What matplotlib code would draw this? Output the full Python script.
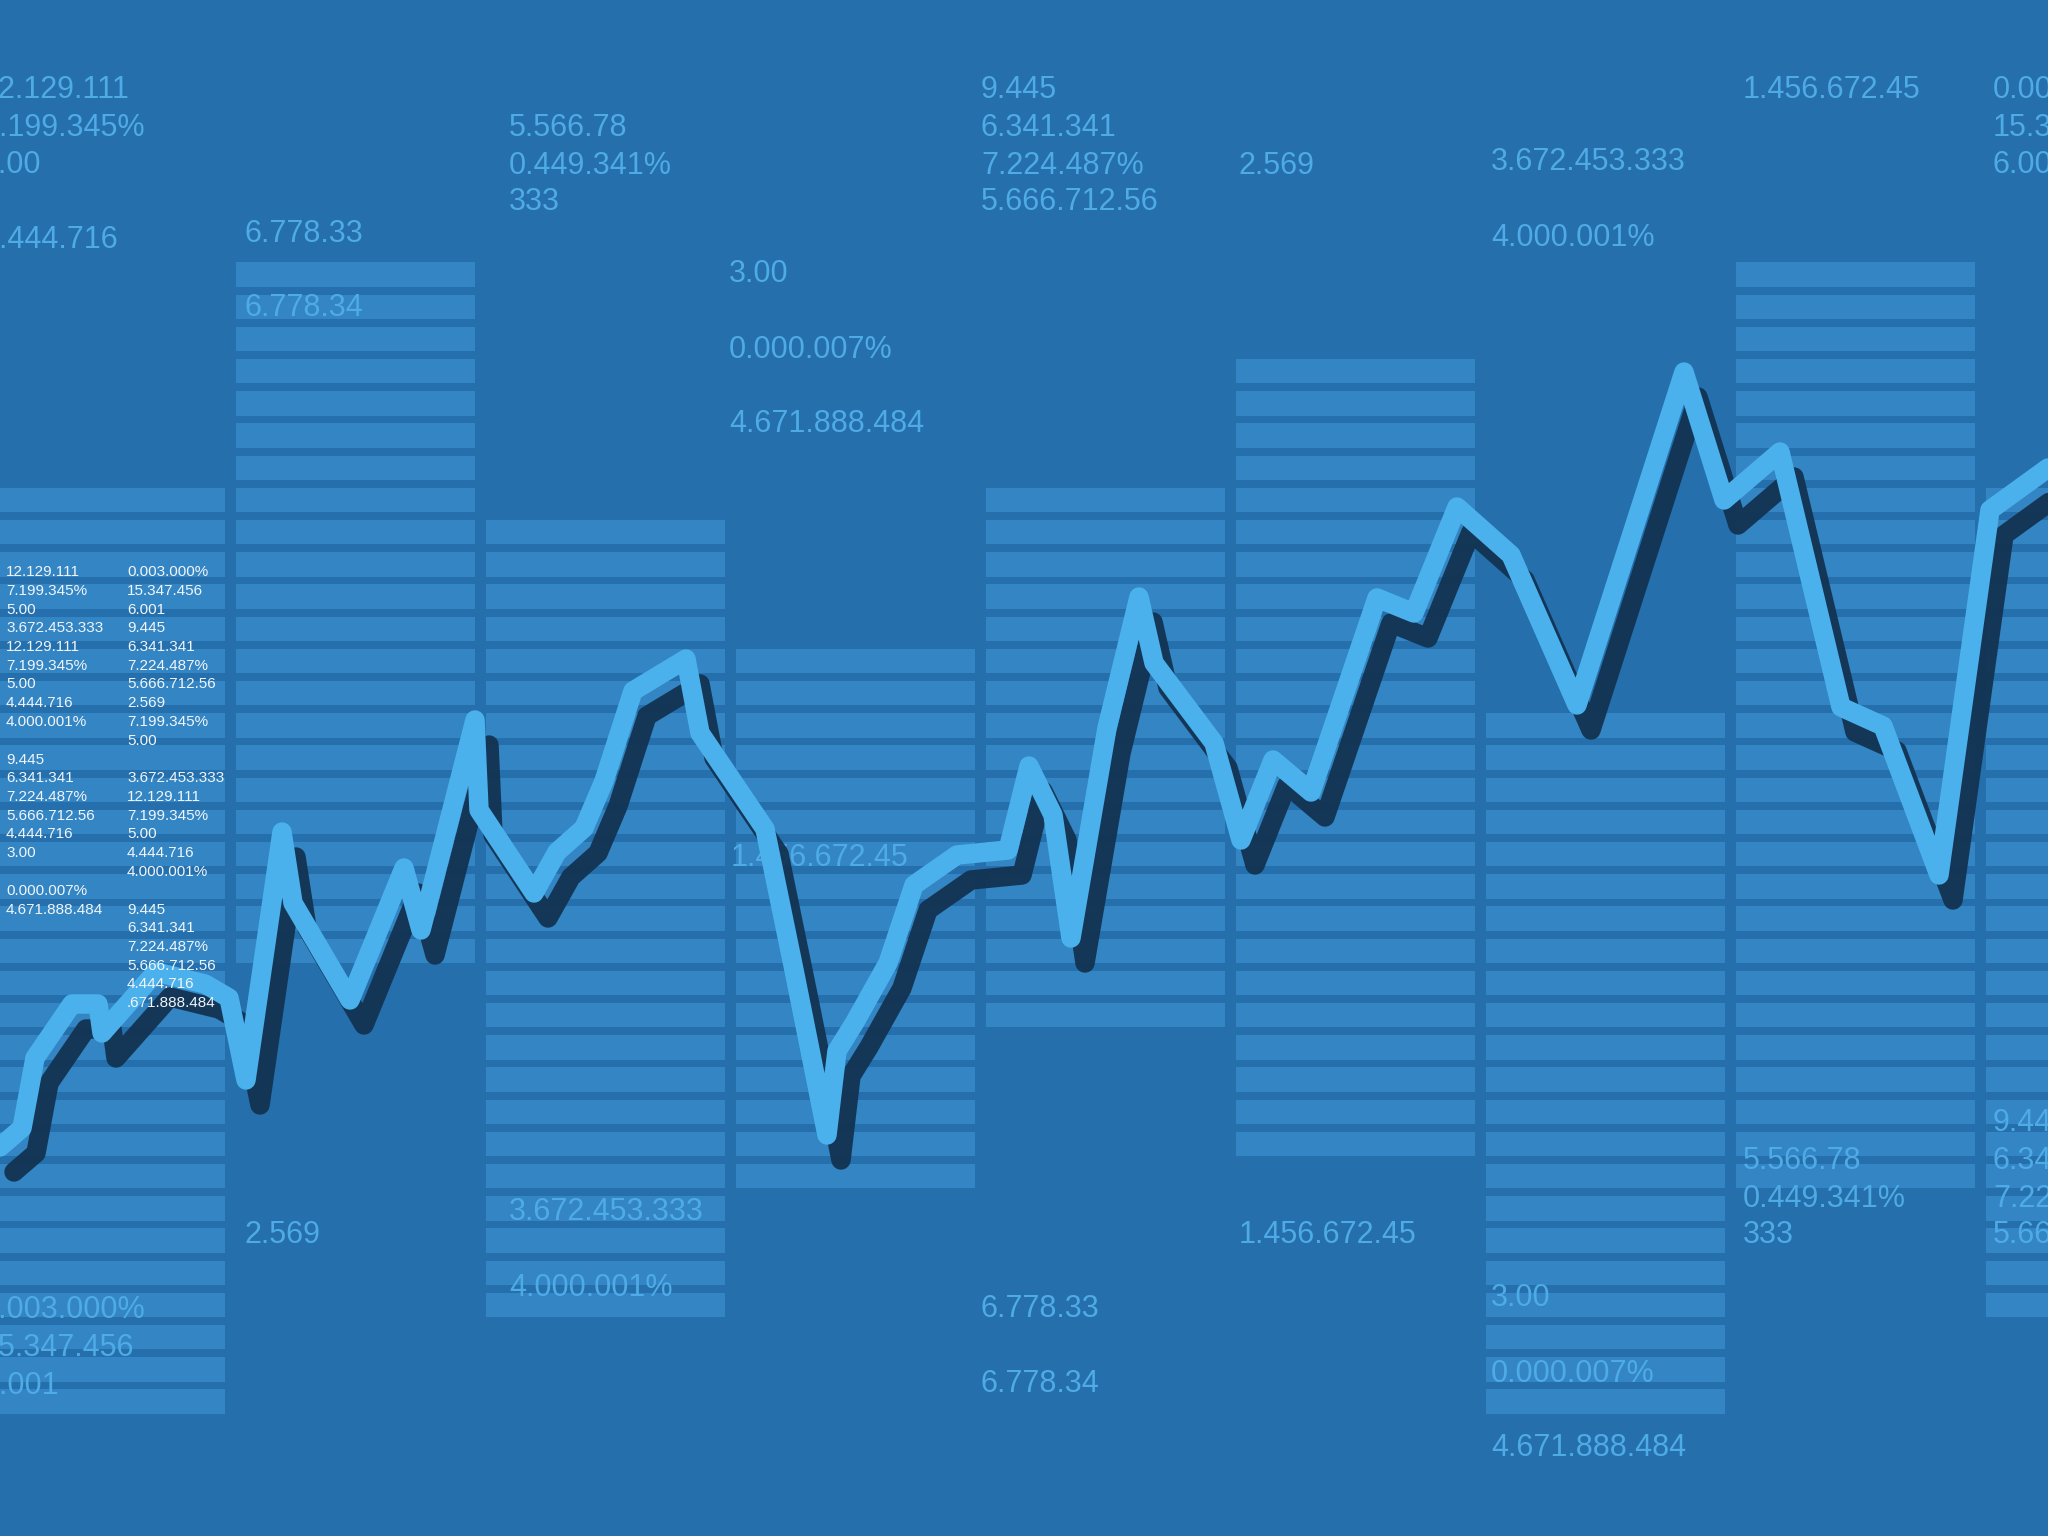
import matplotlib
matplotlib.use("Agg")
import matplotlib.pyplot as plt
import matplotlib.transforms as mtransforms

# ---------------- data ----------------
# stacked stripe columns: first and last stripe row in each column
col_top_row = [7, 0, 8, 12, 7, 3, 14, 0, 7]
col_bottom_row = [35, 21, 32, 28, 23, 27, 35, 28, 32]

# price line (pixel-space values)
line_x = [0, 22, 35, 72, 98, 102, 156, 205, 229, 246, 282, 293, 350, 404, 421,
          475, 479, 534, 557, 584, 604, 633, 686, 700, 765, 794, 827, 837, 855,
          888, 914, 957, 1008, 1029, 1053, 1071, 1107, 1139, 1154, 1214, 1241,
          1273, 1311, 1377, 1414, 1457, 1511, 1577, 1684, 1724, 1780, 1841,
          1883, 1939, 1990, 2048]
line_y = [1147, 1128, 1058, 1004, 1004, 1033, 972, 984, 998, 1080, 832, 903,
          1000, 868, 930, 720, 810, 893, 852, 828, 781, 691, 659, 733, 829, 970,
          1135, 1051, 1022, 963, 885, 855, 850, 766, 815, 938, 728, 597, 663,
          743, 840, 760, 792, 598, 613, 507, 555, 705, 372, 500, 452, 707, 726,
          875, 510, 468]

# large light-blue labels
label_text = ["12.129.111", "7.199.345%", "5.00", "4.444.716",
              "6.778.33", "6.778.34",
              "5.566.78", "0.449.341%", "333",
              "3.00", "0.000.007%", "4.671.888.484",
              "9.445", "6.341.341", "7.224.487%", "5.666.712.56",
              "2.569",
              "3.672.453.333", "4.000.001%",
              "1.456.672.45",
              "0.003.000%", "15.347.456", "6.001",
              "1.456.672.45",
              "2.569",
              "3.672.453.333", "4.000.001%",
              "0.003.000%", "15.347.456", "6.001",
              "6.778.33", "6.778.34",
              "1.456.672.45",
              "3.00", "0.000.007%", "4.671.888.484",
              "5.566.78", "0.449.341%", "333",
              "9.445", "6.341.341", "7.224.487%", "5.666.712.56"]
label_x = [-18, -18, -18, -18,
           244, 244,
           509, 509, 509,
           729, 729, 729,
           981, 981, 981, 981,
           1239,
           1491, 1491,
           1743,
           1993, 1993, 1993,
           731,
           244,
           509, 509,
           -18, -18, -18,
           981, 981,
           1239,
           1491, 1491, 1491,
           1743, 1743, 1743,
           1993, 1993, 1993, 1993]
label_y = [90, 128, 165, 240,
           234, 308,
           128, 166, 202,
           274, 350, 424,
           90, 128, 166, 202,
           166,
           162, 238,
           90,
           90, 128, 165,
           858,
           1235,
           1212, 1288,
           1310, 1348, 1386,
           1309, 1384,
           1235,
           1298, 1374, 1448,
           1161, 1199, 1235,
           1123, 1161, 1199, 1235]

# small white table in the first column
small_left = ["12.129.111", "7.199.345%", "5.00", "3.672.453.333", "12.129.111",
              "7.199.345%", "5.00", "4.444.716", "4.000.001%", "", "9.445",
              "6.341.341", "7.224.487%", "5.666.712.56", "4.444.716", "3.00", "",
              "0.000.007%", "4.671.888.484"]
small_right = ["0.003.000%", "15.347.456", "6.001", "9.445", "6.341.341",
               "7.224.487%", "5.666.712.56", "2.569", "7.199.345%", "5.00", "",
               "3.672.453.333", "12.129.111", "7.199.345%", "5.00", "4.444.716",
               "4.000.001%", "", "9.445", "6.341.341", "7.224.487%",
               "5.666.712.56", "4.444.716", ".671.888.484"]

# ---------------- style ----------------
W, H = 2048, 1536
BG = "#246FAC"
STRIPE = "#3385C3"
LINE = "#4BB1EC"
SHADOW = "#12314F"
LABEL = "#4EABE5"
SMALL = "#F0F5FB"

ROW0, ROW_PITCH, ROW_H = 262.3, 32.2, 24.5
COL0, COL_PITCH, COL_W = -14, 250, 239
SMALL_ROW0, SMALL_PITCH = 572, 18.75
SMALL_X = [6, 127]

fig = plt.figure(figsize=(W / 100, H / 100), dpi=100, facecolor=BG)
ax = fig.add_axes([0, 0, 1, 1])
ax.set_facecolor(BG)
ax.set_xlim(0, W)
ax.set_ylim(H, 0)
ax.axis("off")

# stripe columns
for k, (r0, r1) in enumerate(zip(col_top_row, col_bottom_row)):
    rows = list(range(r0, r1 + 1))
    bottoms = [ROW0 + r * ROW_PITCH for r in rows]
    ax.bar([COL0 + k * COL_PITCH] * len(rows), [ROW_H] * len(rows),
           width=COL_W, bottom=bottoms, align="edge", color=STRIPE,
           linewidth=0, zorder=1)

# large labels (the reference crops some of them at the picture edges)
for s, x, y in zip(label_text, label_x, label_y):
    ax.text(x, y, s, fontsize=22, color=LABEL, ha="left", va="center",
            family=["Liberation Sans", "DejaVu Sans"], zorder=2)

# line shadow and line
shadow_tr = mtransforms.offset_copy(ax.transData, fig=fig, x=14, y=-25, units="dots")
ax.plot(line_x, line_y, color=SHADOW, lw=14, solid_joinstyle="round",
        solid_capstyle="round", transform=shadow_tr, zorder=3, alpha=0.92)
ax.plot(line_x, line_y, color=LINE, lw=14, solid_joinstyle="round",
        solid_capstyle="round", zorder=4)

# small white table
for col, items in enumerate([small_left, small_right]):
    for i, s in enumerate(items):
        if s:
            ax.text(SMALL_X[col], SMALL_ROW0 + i * SMALL_PITCH, s, fontsize=11,
                    color=SMALL, ha="left", va="center",
                    family=["Liberation Sans", "DejaVu Sans"], zorder=5)

fig.savefig("out.png", dpi=100, facecolor=BG)
